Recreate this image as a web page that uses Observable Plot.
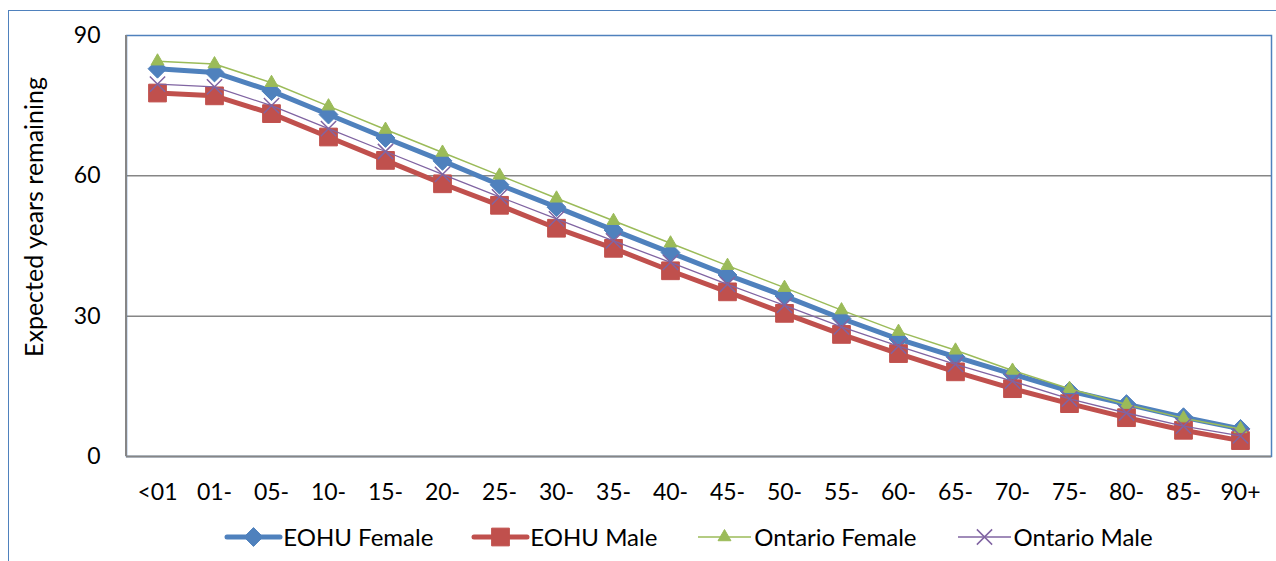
<!DOCTYPE html>
<html><head><meta charset="utf-8">
<script src="https://cdn.jsdelivr.net/npm/d3@7"></script>
<script src="https://cdn.jsdelivr.net/npm/@observablehq/plot@0.6"></script>
<style>
body{margin:0;background:#fff;font-family:Lato,sans-serif;}
#frame{position:absolute;left:8px;top:10px;width:1300px;height:600px;border:1px solid #4F81BD;box-sizing:border-box;}
#chart{position:absolute;left:0;top:0;width:1276px;}
#ylabel{position:absolute;left:33px;top:217px;transform:translate(-50%,-50%) rotate(-90deg);white-space:nowrap;font-size:25px;color:#000;}
#legend{display:flex;justify-content:center;align-items:center;height:43px;font-size:24px;padding-left:104px;box-sizing:border-box;width:1276px;color:#000;}
.item{display:flex;align-items:center;margin:0 20.5px;white-space:nowrap;}
.item svg{margin-right:3px;overflow:visible;}
</style></head><body>
<div id="frame"></div>
<div id="chart"></div>
<script>
const ageGroups = ["<01","01-","05-","10-","15-","20-","25-","30-","35-","40-","45-","50-","55-","60-","65-","70-","75-","80-","85-","90+"];
const eohuFemale    = [82.9,82.1,78.1,73.1,68.1,63.2,58.1,53.3,48.4,43.6,38.8,34.3,29.5,25.1,21.3,17.6,14.0,11.2,8.4,5.9];
const eohuMale      = [77.7,77.1,73.3,68.3,63.3,58.3,53.7,48.8,44.5,39.7,35.2,30.6,26.1,22.0,18.1,14.5,11.3,8.3,5.6,3.4];
const ontarioFemale = [84.5,83.9,79.9,74.9,69.9,65.0,60.1,55.2,50.4,45.6,40.8,36.1,31.3,26.7,22.7,18.4,14.5,11.1,8.2,5.9];
const ontarioMale   = [79.6,79.0,75.0,70.1,65.2,60.3,55.5,50.8,46.1,41.5,36.8,32.3,27.7,23.6,19.7,16.1,12.3,9.3,6.5,4.4];
const yTicks = [0,30,60,90];
const yLabel = "Expected years remaining";

const series = [
  {name:"EOHU Female", values:eohuFemale, color:"#4F81BD", width:5, symbol:"diamond2", r:8.5, filled:true},
  {name:"EOHU Male", values:eohuMale, color:"#C0504D", width:5, symbol:"square", r:10, filled:true},
  {name:"Ontario Female", values:ontarioFemale, color:"#9BBB59", width:1.5, symbol:"triangle", r:4.8, filled:true},
  {name:"Ontario Male", values:ontarioMale, color:"#8064A2", width:1.3, symbol:"times", r:7, filled:false}
];

const svgns = "http://www.w3.org/2000/svg";
const leftAxisLine = (index, scales, values, dim) => {
  const l = document.createElementNS(svgns, "line");
  l.setAttribute("x1", dim.marginLeft); l.setAttribute("x2", dim.marginLeft);
  l.setAttribute("y1", dim.marginTop); l.setAttribute("y2", dim.height - dim.marginBottom);
  l.setAttribute("stroke", "#868686"); l.setAttribute("stroke-width", 2);
  return l;
};

const marks = [
  Plot.ruleY([30,60], {stroke:"#868686", strokeWidth:1.5}),
  Plot.frame({stroke:"#4F81BD", strokeWidth:1.5}),
  Plot.ruleY([0], {stroke:"#868686", strokeWidth:2}),
  leftAxisLine,
  Plot.axisY({ticks:yTicks, tickSize:0, tickPadding:26, label:null}),
  Plot.axisX({tickSize:0, tickPadding:27, label:null})
];
for (const s of series) {
  const d = ageGroups.map((a,i) => ({age:a, value:s.values[i]}));
  marks.push(Plot.line(d, {x:"age", y:"value", stroke:s.color, strokeWidth:s.width}));
  marks.push(Plot.dot(d, s.filled
    ? {x:"age", y:"value", symbol:s.symbol, r:s.r, fill:s.color, stroke:s.color, strokeWidth:1}
    : {x:"age", y:"value", symbol:s.symbol, r:s.r, fill:"none", stroke:s.color, strokeWidth:1.5}));
}

const chart = Plot.plot({
  width:1276, height:515,
  marginLeft:126, marginRight:5, marginTop:35, marginBottom:59,
  style:{fontFamily:"Lato, sans-serif", fontSize:"23px", color:"#000", background:"transparent", overflow:"visible"},
  x:{type:"point", domain:ageGroups, padding:0.5},
  y:{domain:[0,90]},
  marks
});
document.getElementById("chart").appendChild(chart);

d3.select("#chart").append("div").attr("id","ylabel").text(yLabel);

const legend = d3.select("#chart").append("div").attr("id","legend");
for (const s of series) {
  const it = legend.append("div").attr("class","item");
  const sv = it.append("svg").attr("width",53).attr("height",24);
  sv.append("line").attr("x1",0).attr("x2",53).attr("y1",12).attr("y2",12)
    .attr("stroke",s.color).attr("stroke-width",s.width).attr("stroke-linecap", s.width>2 ? "round" : "butt");
  const symMap = {diamond2:d3.symbolDiamond2, square:d3.symbolSquare, triangle:d3.symbolTriangle, times:d3.symbolTimes};
  const path = d3.symbol(symMap[s.symbol], Math.PI*s.r*s.r)();
  sv.append("path").attr("d",path).attr("transform","translate(26.5,12)")
    .attr("fill", s.filled ? s.color : "none").attr("stroke", s.color).attr("stroke-width", s.filled ? 1 : 1.5);
  it.append("span").text(s.name);
}
</script>
</body></html>
